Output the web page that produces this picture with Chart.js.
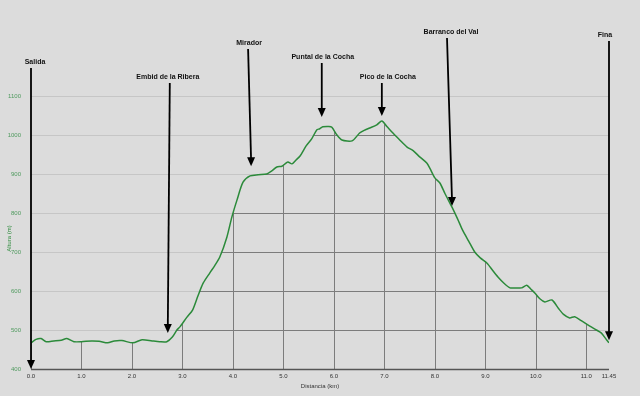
<!DOCTYPE html>
<html>
<head>
<meta charset="utf-8">
<script src="https://cdn.jsdelivr.net/npm/chart.js@4"></script>
<style>
  body { margin: 0; background: #dcdcdc; }
  #wrap { width: 640px; height: 396px; }
</style>
</head>
<body>
<div id="wrap"><canvas id="perfil" width="640" height="396"></canvas></div>
<script>
// Perfil de la ruta: distancia (km) y altura (m)
const distKm = [0, 0.1, 0.2, 0.3, 0.45, 0.6, 0.71, 0.85, 1.0, 1.2, 1.35, 1.52, 1.65, 1.8, 2.02, 2.2, 2.4, 2.55, 2.69,
  2.8, 2.89, 2.95, 3.09, 3.2, 3.3, 3.41, 3.54, 3.64, 3.74, 3.88, 3.98, 4.08, 4.2, 4.34, 4.5, 4.67, 4.77, 4.87, 4.97,
  5.05, 5.09, 5.17, 5.25, 5.33, 5.45, 5.56, 5.66, 5.72, 5.78, 5.9, 5.96, 6.06, 6.16, 6.36, 6.51, 6.6, 6.71, 6.85,
  6.95, 7.05, 7.17, 7.3, 7.45, 7.57, 7.7, 7.84, 7.9, 8.0, 8.1, 8.2, 8.34, 8.45, 8.55, 8.67, 8.79, 8.9, 9.03, 9.15,
  9.25, 9.37, 9.49, 9.6, 9.72, 9.82, 9.9, 9.98, 10.08, 10.18, 10.32, 10.45, 10.55, 10.67, 10.77, 10.9, 11.07, 11.2,
  11.3, 11.4, 11.45];
const altM = [467, 476, 478, 470, 472, 474, 478, 470, 470, 472, 471, 467, 472, 473, 467, 475, 472, 470, 470,
  482, 500, 508, 533, 551, 585, 620, 646, 665, 687, 738, 790, 833, 879, 895, 898, 900, 908, 918, 920,
  928, 931, 926, 936, 946, 972, 990, 1013, 1016, 1021, 1022, 1020, 1000, 987, 985, 1005, 1012, 1018, 1026,
  1036, 1022, 1005, 988, 969, 960, 944, 928, 915, 890, 877, 850, 815, 785, 756, 728, 700, 685, 672, 652,
  636, 620, 608, 608, 608, 615, 605, 595, 580, 572, 577, 555, 540, 531, 534, 524, 510, 500,
  492, 475, 467];

const yTicks = [400, 500, 600, 700, 800, 900, 1000, 1100];
const xTicks = [0, 1, 2, 3, 4, 5, 6, 7, 8, 9, 10, 11, 11.45];
const xTickLabels = ['0.0', '1.0', '2.0', '3.0', '4.0', '5.0', '6.0', '7.0', '8.0', '9.0', '10.0', '11.0', '11.45'];

// Puntos de paso (flechas)
const markerNames = ['Salida', 'Embid de la Ribera', 'Mirador', 'Puntal de la Cocha', 'Pico de la Cocha', 'Barranco del Val', 'Fina'];
const markerKm = [0, 2.71, 4.36, 5.76, 6.95, 8.34, 11.45];
const markerAlt = [400, 492, 920, 1046, 1049, 818, 474];

// estilo de las flechas (px): altura de la etiqueta, inclinacion de la linea, desplazamiento del texto
const markerLabelY = [62, 77, 43, 57, 77, 32, 35];
const markerLean = [0, 2, -3, 0, 0, -5, 0];
const markerLabelDx = [4, -2, 1, 1, 6, 4, -4];

const GREEN = '#2b8a3a';
const FONT = "'Liberation Sans', Arial, sans-serif";

const gridPlugin = {
  id: 'gridPlugin',
  beforeDraw(chart) {
    const ctx = chart.ctx;
    ctx.save();
    ctx.fillStyle = '#dcdcdc';
    ctx.fillRect(0, 0, chart.width, chart.height);
    ctx.restore();
  },
  beforeDatasetsDraw(chart) {
    const ctx = chart.ctx;
    const area = chart.chartArea;
    const xs = chart.scales.x, ys = chart.scales.y;
    const pts = chart.getDatasetMeta(0).data;

    ctx.save();
    // lineas claras sobre todo el ancho
    ctx.strokeStyle = '#c6c6c6';
    ctx.lineWidth = 1;
    yTicks.forEach(v => {
      if (v === 400) return;
      const y = Math.round(ys.getPixelForValue(v)) + 0.5;
      ctx.beginPath();
      ctx.moveTo(area.left, y);
      ctx.lineTo(area.right, y);
      ctx.stroke();
    });

    // lineas oscuras solo debajo del perfil
    ctx.beginPath();
    ctx.moveTo(pts[0].x, area.bottom);
    pts.forEach(p => ctx.lineTo(p.x, p.y));
    ctx.lineTo(pts[pts.length - 1].x, area.bottom);
    ctx.closePath();
    ctx.clip();
    ctx.strokeStyle = '#7c7c7c';
    yTicks.forEach(v => {
      const y = Math.round(ys.getPixelForValue(v)) + 0.5;
      ctx.beginPath();
      ctx.moveTo(area.left, y);
      ctx.lineTo(area.right, y);
      ctx.stroke();
    });
    xTicks.forEach(v => {
      const x = Math.round(xs.getPixelForValue(v)) + 0.5;
      ctx.beginPath();
      ctx.moveTo(x, area.top);
      ctx.lineTo(x, area.bottom);
      ctx.stroke();
    });
    ctx.restore();

    // eje inferior
    ctx.save();
    ctx.strokeStyle = '#555';
    ctx.lineWidth = 1.5;
    ctx.beginPath();
    ctx.moveTo(area.left, area.bottom + 0.5);
    ctx.lineTo(area.right, area.bottom + 0.5);
    ctx.stroke();
    ctx.restore();
  },
  afterDraw(chart) {
    const ctx = chart.ctx;
    const area = chart.chartArea;
    const xs = chart.scales.x, ys = chart.scales.y;
    ctx.save();

    // titulos de los ejes
    ctx.font = '6px ' + FONT;
    ctx.fillStyle = '#333';
    ctx.textAlign = 'center';
    ctx.textBaseline = 'middle';
    ctx.fillText('Distancia (km)', (area.left + area.right) / 2, 386);
    ctx.save();
    ctx.translate(9, (area.top + area.bottom) / 2 + 6);
    ctx.rotate(-Math.PI / 2);
    ctx.fillStyle = GREEN;
    ctx.fillText('Altura (m)', 0, 0);
    ctx.restore();

    // flechas
    markerNames.forEach((name, i) => {
      const tipX = xs.getPixelForValue(markerKm[i]);
      const tipY = ys.getPixelForValue(markerAlt[i]);
      const topX = tipX + markerLean[i];
      const topY = markerLabelY[i] + 6;
      ctx.strokeStyle = '#000';
      ctx.fillStyle = '#000';
      ctx.lineWidth = 1.8;
      ctx.beginPath();
      ctx.moveTo(topX, topY);
      ctx.lineTo(tipX, tipY - 6);
      ctx.stroke();
      ctx.beginPath();
      ctx.moveTo(tipX, tipY);
      ctx.lineTo(tipX - 4, tipY - 9);
      ctx.lineTo(tipX + 4, tipY - 9);
      ctx.closePath();
      ctx.fill();

      ctx.font = 'bold 7px ' + FONT;
      ctx.fillStyle = '#111';
      ctx.textAlign = 'center';
      ctx.textBaseline = 'middle';
      ctx.fillText(name, topX + markerLabelDx[i], markerLabelY[i]);
    });
    ctx.restore();
  }
};

const points = distKm.map((d, i) => ({ x: d, y: altM[i] }));

new Chart(document.getElementById('perfil'), {
  type: 'line',
  data: {
    datasets: [{
      data: points,
      borderColor: GREEN,
      borderWidth: 1.5,
      pointRadius: 0,
      tension: 0.25,
      fill: false
    }]
  },
  options: {
    responsive: false,
    animation: false,
    layout: { padding: { top: 96, right: 31, left: 0, bottom: 0 } },
    plugins: { legend: { display: false }, tooltip: { enabled: false } },
    scales: {
      x: {
        type: 'linear',
        min: 0,
        max: 11.45,
        grid: { display: false, drawTicks: false, tickLength: 0 },
        border: { display: false },
        afterBuildTicks: s => { s.ticks = xTicks.map(v => ({ value: v })); },
        afterFit: s => { s.height = 27; },
        ticks: {
          autoSkip: false,
          maxRotation: 0,
          padding: 4,
          color: '#333',
          font: { size: 6, family: FONT },
          callback: (v, i) => xTickLabels[i]
        }
      },
      y: {
        min: 400,
        max: 1100,
        grid: { display: false },
        border: { display: false },
        afterBuildTicks: s => { s.ticks = yTicks.map(v => ({ value: v })); },
        afterFit: s => { s.width = 31; },
        ticks: {
          padding: 2,
          color: '#4f9a5e',
          font: { size: 6, family: FONT },
          callback: v => String(v)
        }
      }
    }
  },
  plugins: [gridPlugin]
});
</script>
</body>
</html>
